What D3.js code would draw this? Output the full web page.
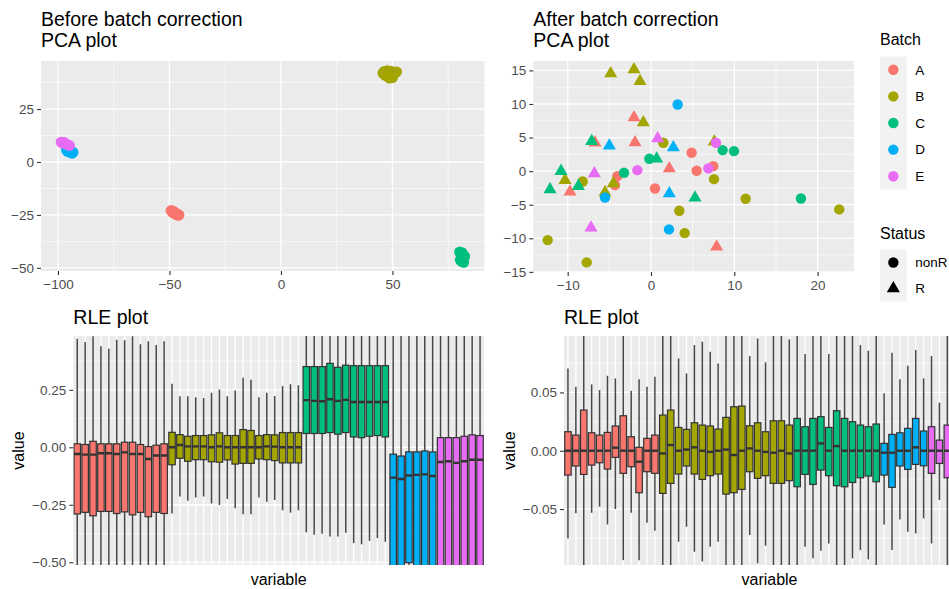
<!DOCTYPE html>
<html>
<head>
<meta charset="utf-8">
<script src="https://cdn.jsdelivr.net/npm/d3@7"></script>
<style>
  body { margin: 0; background: #ffffff; }
  svg { display: block; font-family: "Liberation Sans", Arial, sans-serif; }
</style>
</head>
<body>
<div id="chart"></div>
<script>
// ---- data -------------------------------------------------------------
const batchLevels = ["A", "B", "C", "D", "E"];
const batchColors = ["#F8766D", "#A3A500", "#00BF7D", "#00B0F6", "#E76BF3"];
const statusLevels = ["nonR", "R"];
const samplesPerBatch = [12, 17, 11, 6, 6];

// PCA before correction (samples in batch order A..E)
const pcaBeforePC1 = [
  -49.3, -48.8, -48.2, -47.9, -47.5, -47.1, -46.8, -46.4, -46.0, -45.7, -48.5, -47.3,
  45.7, 46.3, 47.0, 47.6, 48.2, 48.8, 49.4, 50.0, 50.6, 51.2, 51.9, 46.8, 48.0, 49.1, 50.3, 48.6, 47.3,
  80.1, 80.6, 81.2, 81.8, 82.4, 81.5, 80.4, 81.0, 82.0, 81.3, 80.8,
  -96.2, -95.6, -94.9, -94.3, -93.6, -93.2,
  -98.6, -97.9, -97.1, -96.3, -95.5, -94.8
];
const pcaBeforePC2 = [
  -22.9, -23.4, -23.2, -23.8, -24.1, -24.5, -24.3, -24.9, -25.2, -25.0, -23.9, -24.7,
  42.0, 42.8, 41.5, 43.1, 42.2, 40.9, 41.6, 39.8, 42.5, 41.9, 42.6, 40.9, 40.3, 42.9, 41.0, 39.6, 42.4,
  -42.5, -43.1, -42.8, -43.9, -44.6, -45.3, -46.2, -47.0, -47.4, -44.0, -45.8,
  5.6, 4.9, 5.2, 4.4, 4.1, 4.6,
  9.4, 8.9, 9.2, 8.4, 8.0, 7.8
];

// PCA after correction
const pcaAfterBatch = [
  "A","A","A","A","A","A","A","A","A","A","A","A",
  "B","B","B","B","B","B","B","B","B","B","B","B","B","B","B","B","B",
  "C","C","C","C","C","C","C","C","C","C","C",
  "D","D","D","D","D","D",
  "E","E","E","E","E","E"
];
const pcaAfterStatus = [
  "R","R","R","R","R","R","nonR","nonR","nonR","nonR","nonR","nonR",
  "R","R","R","R","R","R","R","R","nonR","nonR","nonR","nonR","nonR","nonR","nonR","nonR","nonR",
  "R","R","R","R","R","R","nonR","nonR","nonR","nonR","nonR",
  "R","R","R","nonR","nonR","nonR",
  "R","R","R","nonR","nonR","nonR"
];
const pcaAfterPC1 = [
  -2.04, -6.72, -1.92, 2.2, -9.72, 7.88, 4.88, 5.48, 7.48, 0.48, -4.04, -4.32,
  -4.84, -2.04, -1.32, -0.92, 7.6, -10.32, -4.52, -5.52, 1.48, -8.2, 7.56, 11.36, 22.6, 3.4, 4.04, -12.4, -7.72,
  -7.12, -10.8, -12.12, -8.72, 0.68, 5.28, -3.24, -0.2, 8.6, 9.96, 18.0,
  -5.0, 2.68, 2.2, 3.2, -5.52, 2.16,
  0.8, -6.8, -7.2, -1.64, 6.88, 7.8
];
const pcaAfterPC2 = [
  7.99, 4.22, 4.27, 0.4, -3.08, -11.26, 2.73, 0.05, 0.74, -2.58, -0.74, -2.08,
  14.53, 15.13, 13.39, 7.24, 4.37, -1.34, -1.84, -3.17, 4.22, -1.54, -1.19, -4.12, -5.7, -5.9, -9.23, -10.27, -13.59,
  4.46, 0.0, -2.73, -2.23, 1.84, -3.97, -0.25, 1.84, 3.13, 2.98, -4.07,
  3.77, 3.52, -3.32, 9.92, -3.92, -8.68,
  4.86, -0.35, -8.43, 0.15, 0.4, 4.22
];

// RLE before correction: whisker ends, hinges, medians per sample
const rleBeforeLow = [
  -0.6, -0.6, -0.6, -0.6, -0.6, -0.6, -0.6, -0.6, -0.6, -0.6, -0.6, -0.6,
  -0.288, -0.214, -0.233, -0.218, -0.214, -0.244, -0.251, -0.225, -0.265, -0.291, -0.291, -0.218, -0.237, -0.229, -0.274, -0.284, -0.274,
  -0.37, -0.38, -0.376, -0.388, -0.388, -0.372, -0.417, -0.422, -0.407, -0.395, -0.411,
  -0.7, -0.7, -0.7, -0.7, -0.7, -0.7,
  -0.7, -0.7, -0.7, -0.7, -0.7, -0.7
];
const rleBeforeQ1 = [
  -0.29, -0.283, -0.298, -0.279, -0.279, -0.288, -0.281, -0.294, -0.283, -0.302, -0.283, -0.288,
  -0.076, -0.048, -0.061, -0.054, -0.054, -0.063, -0.065, -0.055, -0.073, -0.07, -0.07, -0.051, -0.054, -0.058, -0.068, -0.068, -0.068,
  0.06, 0.06, 0.06, 0.064, 0.057, 0.064, 0.045, 0.042, 0.048, 0.051, 0.045,
  -0.55, -0.55, -0.502, -0.55, -0.55, -0.55,
  -0.55, -0.55, -0.55, -0.55, -0.55, -0.55
];
const rleBeforeMed = [
  -0.029, -0.032, -0.032, -0.026, -0.026, -0.029, -0.022, -0.029, -0.029, -0.051, -0.036, -0.036,
  0.0, 0.01, 0.004, 0.004, 0.004, 0.0, 0.004, 0.0, 0.0, 0.0, 0.0, 0.0, 0.004, 0.003, 0.0, 0.0, 0.0,
  0.205, 0.202, 0.2, 0.209, 0.202, 0.206, 0.197, 0.197, 0.197, 0.197, 0.197,
  -0.132, -0.138, -0.123, -0.12, -0.118, -0.125,
  -0.064, -0.061, -0.068, -0.061, -0.054, -0.054
];
const rleBeforeQ3 = [
  0.015, 0.012, 0.026, 0.015, 0.015, 0.015, 0.022, 0.022, 0.012, 0.003, 0.009, 0.015,
  0.065, 0.055, 0.048, 0.051, 0.051, 0.054, 0.063, 0.051, 0.051, 0.077, 0.073, 0.051, 0.055, 0.054, 0.064, 0.064, 0.064,
  0.351, 0.351, 0.351, 0.365, 0.348, 0.357, 0.355, 0.355, 0.355, 0.355, 0.355,
  -0.03, -0.038, -0.02, -0.02, -0.016, -0.02,
  0.042, 0.042, 0.042, 0.048, 0.054, 0.051
];
const rleBeforeHigh = [
  0.472, 0.458, 0.483, 0.439, 0.429, 0.468, 0.465, 0.483, 0.448, 0.461, 0.445, 0.461,
  0.276, 0.222, 0.222, 0.218, 0.214, 0.237, 0.251, 0.222, 0.247, 0.302, 0.294, 0.218, 0.237, 0.223, 0.266, 0.274, 0.27,
  0.55, 0.55, 0.55, 0.55, 0.55, 0.55, 0.55, 0.55, 0.55, 0.55, 0.55,
  0.55, 0.55, 0.55, 0.55, 0.55, 0.55,
  0.55, 0.55, 0.55, 0.55, 0.55, 0.55
];

// RLE after correction
const rleAfterLow = [
  -0.0752, -0.0537, -0.11, -0.0532, -0.048, -0.0632, -0.050, -0.0938, -0.0532, -0.094, -0.0617, -0.0686,
  -0.11, -0.11, -0.078, -0.0652, -0.0866, -0.095, -0.0823, -0.078, -0.11, -0.11, -0.11, -0.0723, -0.0966, -0.0815, -0.11, -0.11, -0.11,
  -0.11, -0.0823, -0.0923, -0.0858, -0.0795, -0.11, -0.11, -0.0923, -0.0852, -0.0932, -0.11,
  -0.0632, -0.0852, -0.0589, -0.0695, -0.0709, -0.058,
  -0.0795, -0.0423, -0.11, -0.09, -0.085, -0.088
];
const rleAfterQ1 = [
  -0.0209, -0.0131, -0.0203, -0.0123, -0.0103, -0.0157, -0.0057, -0.0194, -0.0137, -0.036, -0.018, -0.0194,
  -0.0366, -0.028, -0.020, -0.0131, -0.020, -0.0246, -0.0214, -0.020, -0.0372, -0.036, -0.0332, -0.018, -0.0237, -0.0214, -0.028, -0.028, -0.0257,
  -0.0309, -0.0203, -0.0289, -0.0166, -0.0214, -0.030, -0.0309, -0.0272, -0.0232, -0.0217, -0.0266,
  -0.0209, -0.0314, -0.0131, -0.016, -0.0117, -0.0129,
  -0.0194, -0.0109, -0.0232, -0.025, -0.02, -0.022
];
const rleAfterMed = [
  0, 0, 0, 0, 0, 0, 0.0026, 0, 0, -0.0094, 0, 0,
  -0.0023, 0.0049, 0, 0.001, 0.0029, 0, -0.001, 0, 0.001, -0.0037, 0, 0.002, 0, -0.001, -0.0017, 0, -0.0023,
  0, 0, 0, 0.0063, 0, 0.004, 0, 0, 0, 0, 0,
  -0.0017, -0.0017, 0, 0, 0.0029, 0,
  0, 0, 0, 0, 0, 0
];
const rleAfterQ3 = [
  0.0163, 0.0134, 0.0349, 0.0154, 0.0134, 0.0157, 0.0212, 0.030, 0.012, 0.0029, 0.0106, 0.0134,
  0.0306, 0.0349, 0.020, 0.0183, 0.024, 0.022, 0.0212, 0.0186, 0.0286, 0.0377, 0.0383, 0.0214, 0.024, 0.0163, 0.0257, 0.0257, 0.022,
  0.0277, 0.0206, 0.0277, 0.0292, 0.020, 0.0343, 0.0277, 0.0249, 0.022, 0.0206, 0.0229,
  0.0063, 0.014, 0.0154, 0.0192, 0.0277, 0.0169,
  0.0206, 0.0091, 0.022, 0.024, 0.019, 0.021
];
const rleAfterHigh = [
  0.0706, 0.0549, 0.11, 0.0569, 0.052, 0.0643, 0.062, 0.11, 0.0515, 0.0612, 0.0549, 0.0635,
  0.11, 0.11, 0.0792, 0.0663, 0.0906, 0.0935, 0.0849, 0.0749, 0.11, 0.11, 0.11, 0.0812, 0.0963, 0.0758, 0.11, 0.11, 0.0955,
  0.11, 0.0829, 0.11, 0.11, 0.0829, 0.11, 0.11, 0.11, 0.0906, 0.0858, 0.11,
  0.0492, 0.084, 0.0612, 0.0729, 0.0863, 0.062,
  0.0812, 0.0412, 0.11, 0.095, 0.088, 0.092
];

// ---- layout ------------------------------------------------------------
const width = 949, height = 589;
const panelTL = { x: 41, y: 61, w: 443.3, h: 210 };
const panelTR = { x: 533.3, y: 61, w: 320.7, h: 211 };
const panelBL = { x: 73.3, y: 336, w: 410.7, h: 229 };
const panelBR = { x: 564, y: 336, w: 411, h: 229 };

const color = d3.scaleOrdinal().domain(batchLevels).range(batchColors);
const sampleBatch = samplesPerBatch.flatMap((n, i) => Array(n).fill(batchLevels[i]));

const svg = d3.select("#chart")
    .append("svg")
    .attr("width", width)
    .attr("height", height);

// Grey panel with minor and major white grid lines
function draw_panel(p, id, x, y, xTicks, yTicks) {
    const g = svg.append("g");
    g.append("rect")
        .attr("x", p.x).attr("y", p.y)
        .attr("width", p.w).attr("height", p.h)
        .attr("fill", "#EBEBEB");

    svg.append("clipPath").attr("id", id)
        .append("rect")
        .attr("x", p.x).attr("y", p.y)
        .attr("width", p.w).attr("height", p.h);

    const minor = (ticks, scale) => {
        if (ticks.length < 2) return [];
        const step = ticks[1] - ticks[0];
        const dom = scale.domain();
        const lo = Math.min(dom[0], dom[1]), hi = Math.max(dom[0], dom[1]);
        return [ticks[0] - step / 2].concat(ticks.map(t => t + step / 2))
            .filter(v => v > lo && v < hi);
    };

    if (x.bandwidth === undefined) {
        g.selectAll(".xminor").data(minor(xTicks, x)).enter().append("line")
            .attr("x1", d => x(d)).attr("x2", d => x(d))
            .attr("y1", p.y).attr("y2", p.y + p.h)
            .attr("stroke", "#ffffff").attr("stroke-width", 0.6);
    }
    g.selectAll(".yminor").data(minor(yTicks, y)).enter().append("line")
        .attr("x1", p.x).attr("x2", p.x + p.w)
        .attr("y1", d => y(d)).attr("y2", d => y(d))
        .attr("stroke", "#ffffff").attr("stroke-width", 0.6);

    const xPos = d => x.bandwidth === undefined ? x(d) : x(d) + x.bandwidth() / 2;
    g.selectAll(".xmajor").data(xTicks).enter().append("line")
        .attr("x1", xPos).attr("x2", xPos)
        .attr("y1", p.y).attr("y2", p.y + p.h)
        .attr("stroke", "#ffffff").attr("stroke-width", 1.3);
    g.selectAll(".ymajor").data(yTicks).enter().append("line")
        .attr("x1", p.x).attr("x2", p.x + p.w)
        .attr("y1", d => y(d)).attr("y2", d => y(d))
        .attr("stroke", "#ffffff").attr("stroke-width", 1.3);
    return g;
}

function style_axis(g) {
    g.select(".domain").remove();
    g.selectAll(".tick line").attr("stroke", "#333333").attr("stroke-width", 1.1);
    g.selectAll(".tick text")
        .attr("fill", "#4D4D4D")
        .style("font-size", "13.5px")
        .style("font-family", "'Liberation Sans', Arial, sans-serif");
}

function draw_title(lines, x, y) {
    const t = svg.append("text")
        .attr("x", x).attr("y", y)
        .attr("fill", "#000000")
        .style("font-size", "19.5px");
    lines.forEach((s, i) => {
        t.append("tspan").attr("x", x).attr("dy", i === 0 ? 0 : 21).text(s);
    });
}

// ---- PCA before ---------------------------------------------------------
function draw_pca_before() {
    const p = panelTL;
    const x = d3.scaleLinear().domain([-107.6, 91.2]).range([p.x, p.x + p.w]);
    const y = d3.scaleLinear().domain([-51.5, 47.7]).range([p.y + p.h, p.y]);
    const xTicks = [-100, -50, 0, 50], yTicks = [-50, -25, 0, 25];
    draw_panel(p, "clipTL", x, y, xTicks, yTicks);

    svg.append("g").attr("clip-path", "url(#clipTL)")
        .selectAll("circle")
        .data(pcaBeforePC1.map((v, i) => ({ pc1: v, pc2: pcaBeforePC2[i], batch: sampleBatch[i] })))
        .enter().append("circle")
        .attr("cx", d => x(d.pc1)).attr("cy", d => y(d.pc2))
        .attr("r", 5.4)
        .attr("fill", d => color(d.batch));

    svg.append("g").attr("transform", `translate(0,${p.y + p.h})`)
        .call(d3.axisBottom(x).tickValues(xTicks).tickSize(4).tickPadding(4))
        .call(style_axis);
    svg.append("g").attr("transform", `translate(${p.x},0)`)
        .call(d3.axisLeft(y).tickValues(yTicks).tickSize(4).tickPadding(3))
        .call(style_axis);

    draw_title(["Before batch correction", "PCA plot"], p.x, 26);
}

// ---- PCA after ----------------------------------------------------------
const triangle = d3.symbol().type(d3.symbolTriangle).size(74);

function draw_pca_after() {
    const p = panelTR;
    const x = d3.scaleLinear().domain([-14.13, 24.37]).range([p.x, p.x + p.w]);
    const y = d3.scaleLinear().domain([-15.02, 16.4]).range([p.y + p.h, p.y]);
    const xTicks = [-10, 0, 10, 20], yTicks = [-15, -10, -5, 0, 5, 10, 15];
    draw_panel(p, "clipTR", x, y, xTicks, yTicks);

    const pts = pcaAfterPC1.map((v, i) => ({
        pc1: v, pc2: pcaAfterPC2[i], batch: pcaAfterBatch[i], status: pcaAfterStatus[i]
    }));
    const g = svg.append("g").attr("clip-path", "url(#clipTR)");
    pts.forEach(d => {
        if (d.status === "R") {
            g.append("path")
                .attr("d", triangle())
                .attr("transform", `translate(${x(d.pc1)},${y(d.pc2)})`)
                .attr("fill", color(d.batch));
        } else {
            g.append("circle")
                .attr("cx", x(d.pc1)).attr("cy", y(d.pc2)).attr("r", 5.2)
                .attr("fill", color(d.batch));
        }
    });

    svg.append("g").attr("transform", `translate(0,${p.y + p.h})`)
        .call(d3.axisBottom(x).tickValues(xTicks).tickSize(4).tickPadding(4))
        .call(style_axis);
    svg.append("g").attr("transform", `translate(${p.x},0)`)
        .call(d3.axisLeft(y).tickValues(yTicks).tickSize(4).tickPadding(3))
        .call(style_axis);

    draw_title(["After batch correction", "PCA plot"], p.x, 26);
}

// ---- legends ------------------------------------------------------------
function draw_legends() {
    const lx = 880, keyW = 26.7, keyH = 26.6;

    svg.append("text").attr("x", lx).attr("y", 45)
        .style("font-size", "16px").attr("fill", "#000").text("Batch");
    svg.append("rect").attr("x", lx).attr("y", 56.5)
        .attr("width", keyW).attr("height", keyH * batchLevels.length)
        .attr("fill", "#F2F2F2");
    const bk = svg.selectAll(".bkey").data(batchLevels).enter().append("g")
        .attr("transform", (d, i) => `translate(${lx + keyW / 2},${56.5 + keyH * (i + 0.5)})`);
    bk.append("circle").attr("r", 5.2).attr("fill", d => color(d));
    bk.append("text").attr("x", 22).attr("dy", "0.36em")
        .style("font-size", "13.5px").attr("fill", "#000").text(d => d);

    svg.append("text").attr("x", lx).attr("y", 238.5)
        .style("font-size", "16px").attr("fill", "#000").text("Status");
    svg.append("rect").attr("x", lx).attr("y", 249.5)
        .attr("width", keyW).attr("height", 26 * statusLevels.length)
        .attr("fill", "#F2F2F2");
    const sk = svg.selectAll(".skey").data(statusLevels).enter().append("g")
        .attr("transform", (d, i) => `translate(${lx + keyW / 2},${249.5 + 26 * (i + 0.5)})`);
    sk.each(function (d) {
        if (d === "R") d3.select(this).append("path").attr("d", triangle()).attr("fill", "#000");
        else d3.select(this).append("circle").attr("r", 5.2).attr("fill", "#000");
    });
    sk.append("text").attr("x", 22).attr("dy", "0.36em")
        .style("font-size", "13.5px").attr("fill", "#000").text(d => d);
}

// ---- RLE boxplots -------------------------------------------------------
function draw_rle(p, id, low, q1, med, q3, high, yDomain, yTicks) {
    const n = low.length;
    const x = d3.scaleBand().domain(d3.range(n)).range([p.x, p.x + p.w]).padding(0);
    const y = d3.scaleLinear().domain(yDomain).range([p.y + p.h, p.y]);
    draw_panel(p, id, x, y, d3.range(n), yTicks);

    const data = d3.range(n).map(i => ({
        i: i, low: low[i], q1: q1[i], med: med[i], q3: q3[i], high: high[i], batch: sampleBatch[i]
    }));
    const bw = x.bandwidth() * 0.82;
    const cx = d => x(d.i) + x.bandwidth() / 2;

    const g = svg.append("g").attr("clip-path", `url(#${id})`);
    const box = g.selectAll(".box").data(data).enter().append("g");
    box.append("line")
        .attr("x1", cx).attr("x2", cx)
        .attr("y1", d => y(d.low)).attr("y2", d => y(d.high))
        .attr("stroke", "#474747").attr("stroke-width", 1.5);
    box.append("rect")
        .attr("x", d => cx(d) - bw / 2).attr("width", bw)
        .attr("y", d => y(d.q3)).attr("height", d => y(d.q1) - y(d.q3))
        .attr("fill", d => color(d.batch))
        .attr("stroke", "#333333").attr("stroke-width", 1.2);
    box.append("line")
        .attr("x1", d => cx(d) - bw / 2).attr("x2", d => cx(d) + bw / 2)
        .attr("y1", d => y(d.med)).attr("y2", d => y(d.med))
        .attr("stroke", "#333333").attr("stroke-width", 2.4);

    svg.append("g").attr("transform", `translate(${p.x},0)`)
        .call(d3.axisLeft(y).tickValues(yTicks).tickFormat(d3.format(".2f")).tickSize(4).tickPadding(3))
        .call(style_axis);

    svg.append("text").attr("x", p.x).attr("y", 323.5)
        .style("font-size", "19.5px").attr("fill", "#000").text("RLE plot");
    svg.append("text")
        .attr("transform", `translate(${p.x - 49},${p.y + p.h / 2}) rotate(-90)`)
        .attr("text-anchor", "middle")
        .style("font-size", "16px").attr("fill", "#000").text("value");
    svg.append("text")
        .attr("x", p.x + p.w / 2).attr("y", 585)
        .attr("text-anchor", "middle")
        .style("font-size", "16px").attr("fill", "#000").text("variable");
}

draw_pca_before();
draw_pca_after();
draw_legends();
draw_rle(panelBL, "clipBL", rleBeforeLow, rleBeforeQ1, rleBeforeMed, rleBeforeQ3, rleBeforeHigh,
    [-0.512, 0.484], [-0.5, -0.25, 0, 0.25]);
draw_rle(panelBR, "clipBR", rleAfterLow, rleAfterQ1, rleAfterMed, rleAfterQ3, rleAfterHigh,
    [-0.098, 0.0984], [-0.05, 0, 0.05]);
</script>
</body>
</html>
